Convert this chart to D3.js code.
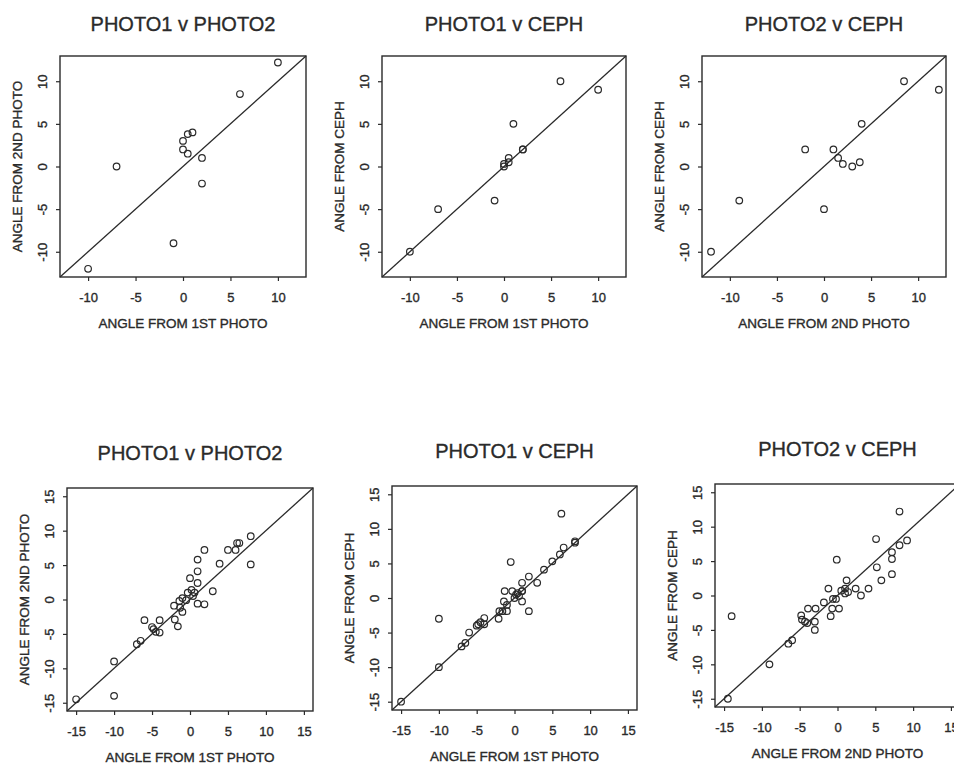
<!DOCTYPE html>
<html>
<head>
<meta charset="utf-8">
<script src="https://cdn.jsdelivr.net/npm/d3@7"></script>
<style>
  body { margin: 0; background: #fff; }
  svg { display: block; font-family: "Liberation Sans", Arial, Helvetica, sans-serif; }
  svg text { stroke: #2a2a2a; stroke-width: 0.35px; }
</style>
</head>
<body>
<script>
// top row: 12 subjects, angles (degrees)
const topPhoto1 = [-10, -7, -1, 0, 0, 0.5, 0.5, 1, 2, 2, 6, 10];
const topPhoto2 = [-12, 0, -9, 3, 2, 1.5, 3.8, 4, 1, -2, 8.5, 12.2];
const topCeph   = [-10, -5, -4, 0, 0.3, 1, 0.5, 5, 2, 2, 10, 9];

// bottom row: 38 subjects
const botPhoto1 = [-15, -10, -10, -7, -6.5, -6, -5, -4.8, -4.5, -4, -4, -2.1, -2, -1.6, -1.4, -1.3, -1, -1, -0.5,
                   0, -0.3, 0.2, 0.4, 0.6, 1, 1, 1, 1, 1.9, 1.9, 3, 3.9, 5, 6, 6.5, 6.2, 8, 8];
const botPhoto2 = [-14.5, -14, -9, -6.5, -6, -3, -4, -4.3, -4.7, -3, -4.8, -0.9, -2.9, -3.9, -0.2, -1.2, -1.8, 0.2, -0.1,
                   3.1, 1, 1.4, 0.5, 1, 2.4, 4.1, 5.8, -0.6, 7.2, -0.7, 1.2, 5.2, 7.2, 7.2, 8.2, 8.2, 9.2, 5.1];
const botCeph   = [-15, -3, -10, -7, -6.5, -5, -4, -3.8, -3.5, -3.8, -2.9, -3, -1.9, -1.9, -0.5, 1, -1, -1.9, 5.2,
                   0, 1, 0.5, 0.7, 0.3, 1, 1, 2.2, -0.5, 3.1, -1.9, 2.2, 4.1, 5.3, 6.3, 7.3, 12.2, 8, 8.2];

const topTicks = [-10, -5, 0, 5, 10];
const botTicks = [-15, -10, -5, 0, 5, 10, 15];
const topLimit = 12;   // axis limits before R's 4% padding
const botLimit = 15;

const titles  = ["PHOTO1 v PHOTO2", "PHOTO1 v CEPH", "PHOTO2 v CEPH"];
const xLabels = ["ANGLE FROM 1ST PHOTO", "ANGLE FROM 1ST PHOTO", "ANGLE FROM 2ND PHOTO"];
const yLabels = ["ANGLE FROM 2ND PHOTO", "ANGLE FROM CEPH", "ANGLE FROM CEPH"];

const width = 954, height = 767;
const ink = "#2a2a2a";

const svg = d3.select("body").append("svg")
    .attr("width", width)
    .attr("height", height);

// plot boxes, left/right/top/bottom in pixels
const panels = [
    { x0: 60,  x1: 306, y0: 56,  y1: 277, row: "top", k: 0 },
    { x0: 382, x1: 626, y0: 56,  y1: 277, row: "top", k: 1 },
    { x0: 702, x1: 946, y0: 56,  y1: 277, row: "top", k: 2 },
    { x0: 67,  x1: 313, y0: 488, y1: 711, row: "bot", k: 0 },
    { x0: 392, x1: 637, y0: 486, y1: 710, row: "bot", k: 1 },
    { x0: 715, x1: 960, y0: 484, y1: 707, row: "bot", k: 2 }
];

function pairsFor(row, k) {
    const p1 = row === "top" ? topPhoto1 : botPhoto1;
    const p2 = row === "top" ? topPhoto2 : botPhoto2;
    const ce = row === "top" ? topCeph : botCeph;
    const xs = [p1, p1, p2][k];
    const ys = [p2, ce, ce][k];
    return xs.map((x, i) => [x, ys[i]]);
}

panels.forEach(p => {
    const lim = p.row === "top" ? topLimit : botLimit;
    const dom = [-lim * 1.08, lim * 1.08];
    const ticks = p.row === "top" ? topTicks : botTicks;
    const x = d3.scaleLinear().domain(dom).range([p.x0, p.x1]);
    const y = d3.scaleLinear().domain(dom).range([p.y1, p.y0]);
    const cx = (p.x0 + p.x1) / 2, cy = (p.y0 + p.y1) / 2;

    const g = svg.append("g");

    // x axis
    const gx = g.append("g")
        .attr("transform", `translate(0,${p.y1})`)
        .call(d3.axisBottom(x).tickValues(ticks).tickSize(4).tickPadding(12).tickFormat(d => String(d)));
    gx.select(".domain").remove();
    gx.selectAll("line").attr("stroke", ink).attr("stroke-width", 1.2);
    gx.selectAll("text").attr("fill", ink).attr("font-size", 13).attr("font-family", null);

    // y axis, labels parallel to the axis as in R
    const gy = g.append("g")
        .attr("transform", `translate(${p.x0},0)`)
        .call(d3.axisLeft(y).tickValues(ticks).tickSize(4).tickFormat(d => String(d)));
    gy.select(".domain").remove();
    gy.selectAll("line").attr("stroke", ink).attr("stroke-width", 1.2);
    gy.selectAll("text")
        .attr("fill", ink).attr("font-size", 13).attr("font-family", null)
        .attr("x", 0).attr("y", -13.5).attr("dy", null)
        .attr("transform", "rotate(-90)")
        .attr("text-anchor", "middle");

    // box
    g.append("rect")
        .attr("x", p.x0).attr("y", p.y0)
        .attr("width", p.x1 - p.x0).attr("height", p.y1 - p.y0)
        .attr("fill", "none").attr("stroke", ink).attr("stroke-width", 1.4);

    // line of identity
    g.append("line")
        .attr("x1", x(dom[0])).attr("y1", y(dom[0]))
        .attr("x2", x(dom[1])).attr("y2", y(dom[1]))
        .attr("stroke", ink).attr("stroke-width", 1.3);

    // points
    g.append("g").selectAll("circle")
        .data(pairsFor(p.row, p.k))
        .join("circle")
        .attr("cx", d => x(d[0]))
        .attr("cy", d => y(d[1]))
        .attr("r", 3.3)
        .attr("fill", "none")
        .attr("stroke", ink)
        .attr("stroke-width", 1.2);

    // titles and axis labels
    g.append("text")
        .attr("x", cx).attr("y", p.y0 - (p.row === "top" ? 25 : 28))
        .attr("text-anchor", "middle")
        .attr("font-size", 20).attr("fill", ink)
        .text(titles[p.k]);

    g.append("text")
        .attr("x", cx).attr("y", p.y1 + 51)
        .attr("text-anchor", "middle")
        .attr("font-size", 13.5).attr("fill", ink)
        .text(xLabels[p.k]);

    g.append("text")
        .attr("transform", `translate(${p.x0 - 38},${cy}) rotate(-90)`)
        .attr("text-anchor", "middle")
        .attr("font-size", 13.5).attr("fill", ink)
        .text(yLabels[p.k]);
});
</script>
</body>
</html>
